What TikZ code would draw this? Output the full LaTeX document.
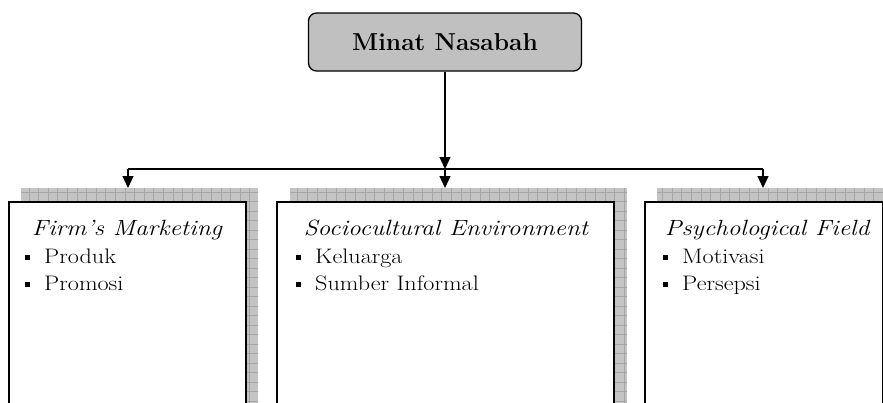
\documentclass[tikz,border=0pt]{standalone}
\usepackage{fontspec}
\setmainfont{Latin Modern Roman}[FakeStretch=1.15]
\newfontfamily\titlefont{Latin Modern Roman}
\usetikzlibrary{arrows.meta}
\definecolor{shadowfill}{HTML}{C4C4C4}
\definecolor{shadowgrid}{HTML}{A6A6A6}
\definecolor{topfill}{HTML}{C0C0C0}
\newcommand{\bulsq}{\raisebox{3pt}{\rule{5pt}{5pt}}\hspace{14pt}}
\newcommand{\shadowarea}[4]{%
  \begin{scope}
    \clip (#1,#2) rectangle (#3,#4);
    \fill[shadowfill] (#1,#2) rectangle (#3,#4);
    \foreach \gx in {0,9.6,...,900} \draw[shadowgrid,line width=0.6pt] (\gx,150) -- (\gx,420);
    \foreach \gy in {182.5,192,...,420} \draw[shadowgrid,line width=0.6pt] (0,\gy) -- (900,\gy);
  \end{scope}}
\begin{document}
\begin{tikzpicture}[x=1pt,y=-1pt,
  mainbox/.style={draw=black,line width=1.5pt,fill=white,anchor=north west,inner sep=0pt},
  topbox/.style={draw=black,line width=1.3pt,fill=topfill,rounded corners=8pt,minimum width=273pt,minimum height=58pt,inner sep=0pt,font=\titlefont\fontsize{24.5}{28}\selectfont\bfseries},
  headtext/.style={anchor=base,inner sep=0pt,font=\fontsize{22}{26}\selectfont\itshape},
  itemtext/.style={anchor=base west,inner sep=0pt,font=\fontsize{21}{24}\selectfont},
  conn/.style={line width=1.3pt,-{Triangle[length=12pt,width=11pt]}},
  plain/.style={line width=1.3pt}]
\useasboundingbox (0,0) rectangle (883,402);
\clip (0,0) rectangle (883,402);
% shadows
\shadowarea{21}{188}{258}{410}
\shadowarea{290}{188}{627}{410}
\shadowarea{657}{188}{895}{410}
% main boxes
\node[mainbox,minimum width=237pt,minimum height=230pt] (b1) at (8,201) {};
\node[mainbox,minimum width=337pt,minimum height=230pt] (b2) at (276,201) {};
\node[mainbox,minimum width=238pt,minimum height=230pt] (b3) at (644,201) {};
% top box
\node[topbox] (top) at (445,42) {Minat Nasabah};
% headers
\node[headtext] (h1) at (127,235) {Firm's Marketing};
\node[headtext] (h2) at (446,235) {Sociocultural Environment};
\node[headtext] (h3) at (767,235) {Psychological Field};
% items
\node[itemtext] (i11) at (25,263) {\bulsq Produk};
\node[itemtext] (i12) at (25,290) {\bulsq Promosi};
\node[itemtext] (i21) at (296,263) {\bulsq Keluarga};
\node[itemtext] (i22) at (296,290) {\bulsq Sumber Informal};
\node[itemtext] (i31) at (663,263) {\bulsq Motivasi};
\node[itemtext] (i32) at (663,290) {\bulsq Persepsi};
% connectors
\coordinate (jm) at (445,169);
\coordinate (jl) at (128,169);
\coordinate (jr) at (763,169);
\coordinate (el) at (128,188);
\coordinate (em) at (445,188);
\coordinate (er) at (763,188);
\draw[conn] (top.south) -- (jm);
\draw[plain] (jl) -- (jr);
\draw[conn] (jl) -- (el);
\draw[conn] (jm) -- (em);
\draw[conn] (jr) -- (er);
\end{tikzpicture}
\end{document}
